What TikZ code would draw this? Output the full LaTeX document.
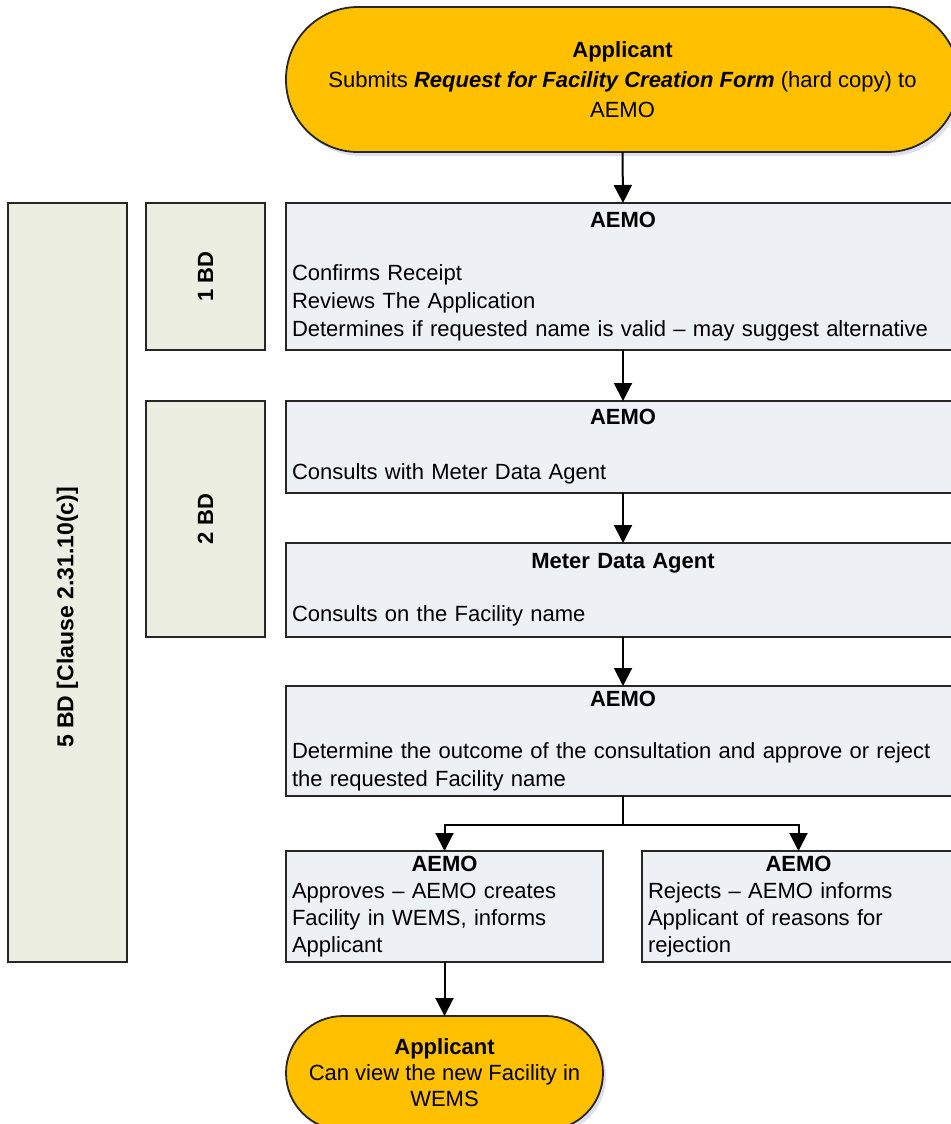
\documentclass[tikz,border=0pt]{standalone}
\usepackage{fontspec}
\setmainfont{Liberation Sans}
\usetikzlibrary{positioning,arrows.meta,shadows}

\definecolor{termgold}{RGB}{255,192,0}
\definecolor{procfill}{RGB}{237,240,245}
\definecolor{dayfill}{RGB}{235,238,224}
\definecolor{linegray}{RGB}{38,38,38}

\tikzset{
    every node/.style={outer sep=0pt},
    termbox/.style={rectangle, draw=linegray, fill=termgold, line width=0.9pt, align=center, inner sep=2pt,
        drop shadow={shadow xshift=1.5pt, shadow yshift=-2pt, fill=blue!30!gray!40, opacity=0.5}},
    procbox/.style={rectangle, draw=linegray, fill=procfill, line width=0.9pt, anchor=north west,
        align=left, inner xsep=3pt, inner ysep=0pt, font=\fontsize{11}{14}\selectfont},
    daybox/.style={rectangle, draw=linegray, fill=dayfill, line width=0.9pt, anchor=north west,
        minimum width=59.5pt},
    flow/.style={draw=black, line width=1pt, -{Triangle[width=9pt,length=9pt]}},
}

\newcommand{\boxhead}[1]{\makebox[\hsize]{\bfseries #1}}

\begin{document}
\begin{tikzpicture}[x=0.5pt, y=-0.5pt]
    \useasboundingbox (0,0) rectangle (950,1124);

    % start / end
    \node[termbox, minimum width=336.5pt, minimum height=72.5pt, rounded corners=36pt,
        font=\fontsize{11}{15}\selectfont] (submit) at (622.5,79.5)
        {\textbf{Applicant}\\ Submits \textbf{\textit{Request for Facility Creation Form}} (hard copy) to\\ AEMO};
    \node[termbox, minimum width=158.5pt, minimum height=57pt, rounded corners=28.5pt,
        font=\fontsize{11}{13}\selectfont] (view) at (444.5,1073)
        {\textbf{Applicant}\\ Can view the new Facility in\\ WEMS};

    % business day bars
    \node[daybox, minimum height=379.5pt,
        label={[rotate=90, font=\fontsize{11.5}{13}\selectfont\bfseries, xshift=-17.5pt]center:5 BD [Clause 2.31.10(c)]}]
        (clause) at (8,203) {};
    \node[daybox, minimum height=73.5pt,
        label={[rotate=90, font=\fontsize{11}{13}\selectfont\bfseries]center:1 BD}] (dayone) at (146,203) {};
    \node[daybox, minimum height=118pt,
        label={[rotate=90, font=\fontsize{11}{13}\selectfont\bfseries]center:2 BD}] (daytwo) at (146,401) {};

    % process steps
    \node[procbox, text width=331pt, minimum height=73.5pt] (review) at (286,203)
        {\boxhead{AEMO}\\[12.5pt] Confirms Receipt\\ Reviews The Application\\
         Determines if requested name is valid -- may suggest alternative};
    \node[procbox, text width=331pt, minimum height=46pt] (consult) at (286,401)
        {\boxhead{AEMO}\\[13.5pt] Consults with Meter Data Agent};
    \node[procbox, text width=331pt, minimum height=47pt] (agent) at (286,543)
        {\boxhead{Meter Data Agent}\\[12.5pt] Consults on the Facility name};
    \node[procbox, text width=331pt, minimum height=55pt] (outcome) at (286,686)
        {\boxhead{AEMO}\\[12pt] Determine the outcome of the consultation and approve or reject\\
         the requested Facility name};
    \node[procbox, text width=152.5pt, minimum height=55.5pt, font=\fontsize{11}{13.5}\selectfont] (approve) at (286,851)
        {\boxhead{AEMO}\\ Approves -- AEMO creates\\ Facility in WEMS, informs\\ Applicant};
    \node[procbox, text width=150.5pt, minimum height=55.5pt, font=\fontsize{11}{13.5}\selectfont] (reject) at (642,851)
        {\boxhead{AEMO}\\ Rejects -- AEMO informs\\ Applicant of reasons for\\ rejection};

    % connectors
    \draw[flow] (submit.south) -- (review.north);
    \draw[flow] (review.south) -- (consult.north);
    \draw[flow] (consult.south) -- (agent.north);
    \draw[flow] (agent.south) -- (outcome.north);
    \draw[line width=1pt] (outcome.south) -- ++(0,29) coordinate (split);
    \draw[flow] (split) -| (approve.north);
    \draw[flow] (split) -| (reject.north);
    \draw[flow] (approve.south) -- (view.north);
\end{tikzpicture}
\end{document}
